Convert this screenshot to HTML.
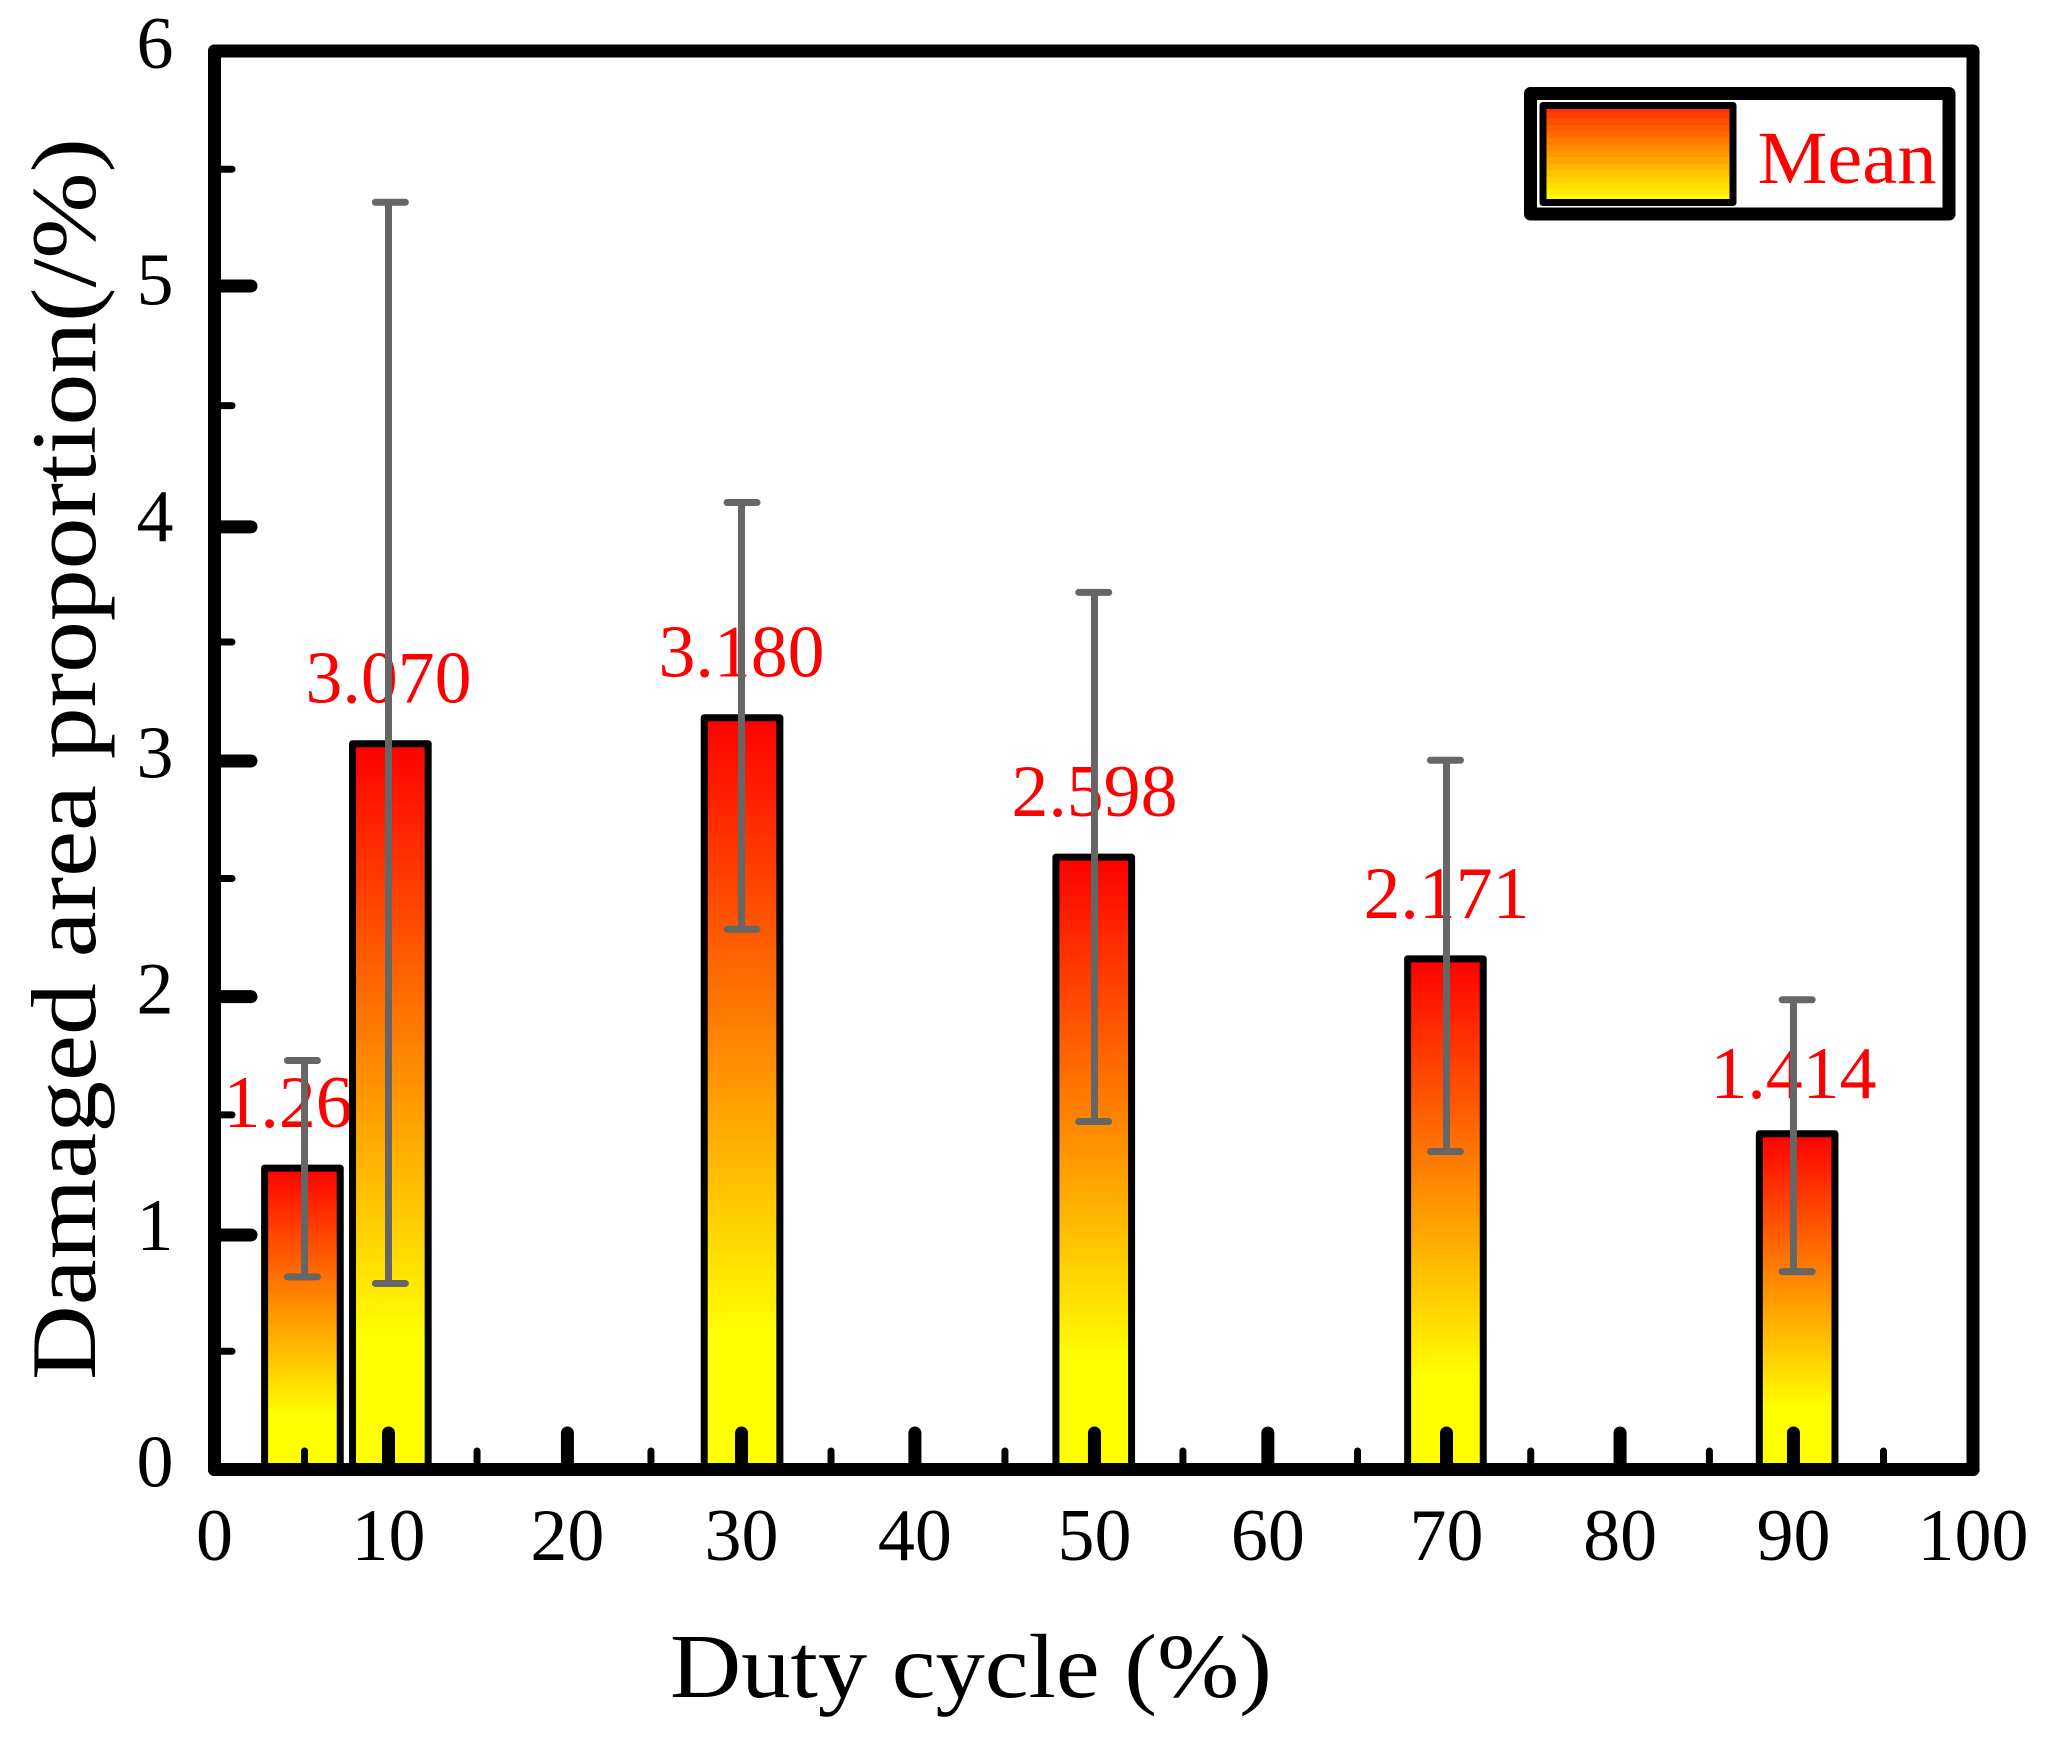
<!DOCTYPE html>
<html lang="en">
<head>
<meta charset="utf-8">
<title>Damaged area proportion vs duty cycle</title>
<style>
html,body{margin:0;padding:0;background:#fff;}
svg{display:block;}
text{font-family:"Liberation Serif",serif;}
</style>
</head>
<body>
<svg id="chart" xmlns="http://www.w3.org/2000/svg" width="2049" height="1746" viewBox="0 0 2049 1746">
  <defs>
    <linearGradient id="barFill" x1="0" y1="0" x2="0" y2="1">
      <stop offset="0" stop-color="#ff0000"/>
      <stop offset="0.82" stop-color="#ffff00"/>
      <stop offset="1" stop-color="#ffff00"/>
    </linearGradient>
    <linearGradient id="legendFill" x1="0" y1="0" x2="0" y2="1"></linearGradient>
  </defs>
  <rect x="0" y="0" width="2049" height="1746" fill="#ffffff"/>
  <g id="yTicks"></g>
  <g id="valueLabels"></g>
  <g id="bars"></g>
  <g id="xTicks"></g>
  <rect id="frame" fill="none" stroke="#000" stroke-width="13" stroke-linejoin="round"/>
  <g id="errors"></g>
  <g id="xLabels"></g>
  <g id="yLabels"></g>
  <text x="670" y="1697" font-size="91" fill="#000" textLength="602" lengthAdjust="spacingAndGlyphs">Duty cycle (%)</text>
  <text transform="translate(95,1380) rotate(-90)" font-size="92" fill="#000" textLength="1242" lengthAdjust="spacingAndGlyphs">Damaged area proportion(/%)</text>
  <g>
    <rect x="1530.5" y="93.5" width="418.5" height="120.5" fill="#fff" stroke="#000" stroke-width="13" stroke-linejoin="round"/>
    <rect x="1543" y="105.5" width="190" height="97" fill="url(#legendFill)" stroke="#000" stroke-width="7" stroke-linejoin="round"/>
    <text x="1757.5" y="183" font-size="75" fill="#ff0000" textLength="179" lengthAdjust="spacingAndGlyphs">Mean</text>
  </g>
</svg>
<script>
const dutyCycles = [5, 10, 30, 50, 70, 90];
const meanValues = [1.275, 3.07, 3.18, 2.59, 2.16, 1.42];
const printedValues = ["1.265", "3.070", "3.180", "2.598", "2.171", "1.414"];
const errorUpper = [1.73, 5.36, 4.09, 3.71, 3.0, 1.987];
const errorLower = [0.815, 0.787, 2.285, 1.472, 1.345, 0.837];
const errorStemDuty = [5.12, 9.895, 29.97, 50.04, 70.06, 89.79];
const xMajorTicks = [0, 9.895, 20.07, 29.97, 39.83, 50.04, 59.9, 70.06, 79.93, 89.79, 100];
const xTickLabels = ["0", "10", "20", "30", "40", "50", "60", "70", "80", "90", "100"];
const xMinorTicks = [5.12, 14.93, 24.82, 35.06, 44.95, 55.07, 65, 74.85, 85.01, 94.91];
const yMajorTicks = [0, 0.992, 2, 2.997, 3.987, 5.006, 6];
const yTickLabels = ["0", "1", "2", "3", "4", "5", "6"];
const yMinorTicks = [0.5, 1.5, 2.5, 3.5, 4.5, 5.5];

const NS = 'http://www.w3.org/2000/svg';
const plotLeft = 214.5, plotRight = 1973, plotTop = 51, plotBottom = 1469.5;
const xMax = 100, yMax = 6, barWidthUnits = 4.7;
const xScale = v => plotLeft + (v / xMax) * (plotRight - plotLeft);
const yScale = v => plotBottom - (v / yMax) * (plotBottom - plotTop);

function make(tag, parentId, attrs, text) {
  const el = document.createElementNS(NS, tag);
  for (const k in attrs) el.setAttribute(k, attrs[k]);
  if (text !== undefined) el.textContent = text;
  document.getElementById(parentId).appendChild(el);
  return el;
}

const frame = document.getElementById('frame');
frame.setAttribute('x', plotLeft);
frame.setAttribute('y', plotTop);
frame.setAttribute('width', plotRight - plotLeft);
frame.setAttribute('height', plotBottom - plotTop);

const legendBands = 15;
for (let k = 0; k < legendBands; k++) {
  const g = Math.round(48 + (255 - 48) * k / (legendBands - 1));
  const colour = 'rgb(255,' + g + ',0)';
  make('stop', 'legendFill', {offset: k / legendBands, 'stop-color': colour});
  make('stop', 'legendFill', {offset: (k + 1) / legendBands, 'stop-color': colour});
}

yMajorTicks.forEach((v, i) => {
  const t = make('line', 'yTicks', {x1: plotLeft, x2: 251, y1: yScale(v), y2: yScale(v), stroke: '#000', 'stroke-width': 13, 'stroke-linecap': 'round'});
  
  
  const l = make('text', 'yLabels', {x: 155, y: yScale(i) + 17, 'font-size': 74, 'text-anchor': 'middle', fill: '#000'}, yTickLabels[i]);
  
  
});
yMinorTicks.forEach(v => {
  const t = make('line', 'yTicks', {x1: plotLeft, x2: 232, y1: yScale(v), y2: yScale(v), stroke: '#000', 'stroke-width': 7, 'stroke-linecap': 'round'});
  
  
});

dutyCycles.forEach((d, i) => {
  const cx = xScale(d);
  const stemX = xScale(errorStemDuty[i]);
  const top = yScale(meanValues[i]);
  const w = barWidthUnits / xMax * (plotRight - plotLeft);
  const labelLift = d === 90 ? 36 : 41;
  const labelX = d === 5 ? stemX + 2 : stemX;

  const label = make('text', 'valueLabels', {x: labelX, y: top - labelLift, 'font-size': 74, 'text-anchor': 'middle', fill: '#ff0000', textLength: 166, lengthAdjust: 'spacingAndGlyphs'}, printedValues[i]);
  
  

  const bar = make('rect', 'bars', {x: cx - w / 2 + 3.5, y: top, width: w - 7, height: plotBottom - top, fill: 'url(#barFill)', stroke: '#000', 'stroke-width': 7, 'stroke-linejoin': 'round'});
  
  

  const stem = make('line', 'errors', {x1: stemX, x2: stemX, y1: yScale(errorUpper[i]), y2: yScale(errorLower[i]), stroke: '#666666', 'stroke-width': 7});
  
  

  const capHalf = 15;
  const capTop = make('line', 'errors', {x1: cx - capHalf, x2: cx + capHalf, y1: yScale(errorUpper[i]), y2: yScale(errorUpper[i]), stroke: '#666666', 'stroke-width': 7, 'stroke-linecap': 'round'});
  
  

  const capBottom = make('line', 'errors', {x1: cx - capHalf, x2: cx + capHalf, y1: yScale(errorLower[i]), y2: yScale(errorLower[i]), stroke: '#666666', 'stroke-width': 7, 'stroke-linecap': 'round'});
  
  
});

xMajorTicks.forEach((v, i) => {
  const t = make('line', 'xTicks', {x1: xScale(v), x2: xScale(v), y1: plotBottom, y2: 1433, stroke: '#000', 'stroke-width': 13, 'stroke-linecap': 'round'});
  
  
  const l = make('text', 'xLabels', {x: xScale(v), y: 1560, 'font-size': 74, 'text-anchor': 'middle', fill: '#000'}, xTickLabels[i]);
  
  
});
xMinorTicks.forEach(v => {
  const t = make('line', 'xTicks', {x1: xScale(v), x2: xScale(v), y1: plotBottom, y2: 1451, stroke: '#000', 'stroke-width': 7, 'stroke-linecap': 'round'});
  
  
});
</script>
</body>
</html>
